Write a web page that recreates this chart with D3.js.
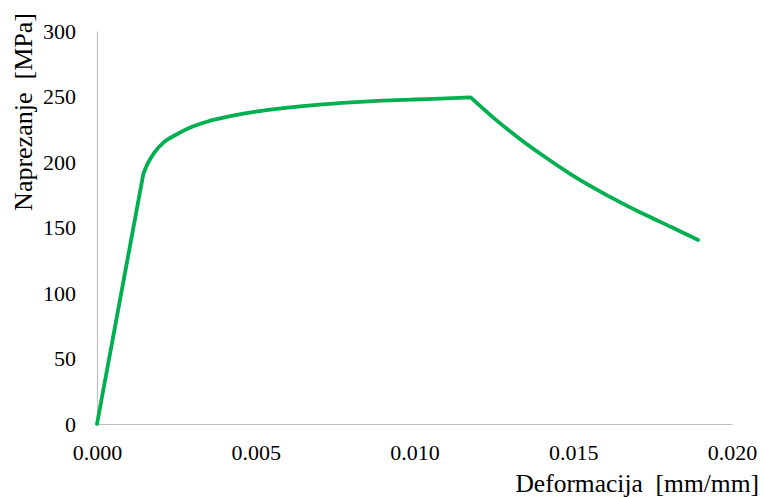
<!DOCTYPE html>
<html>
<head>
<meta charset="utf-8">
<script src="https://cdn.jsdelivr.net/npm/d3@7"></script>
<style>
  html, body { margin: 0; padding: 0; background: #fff; }
  svg { display: block; }
  text { font-family: "Liberation Serif", "Times New Roman", serif; fill: #000; white-space: pre; }
</style>
</head>
<body>
<svg id="chart" width="763" height="497"></svg>
<script>
const strain = [0, 0.00146, 0.0016, 0.0018, 0.0021, 0.0025, 0.0029, 0.0035, 0.0042, 0.005, 0.006, 0.007, 0.008, 0.009, 0.010, 0.011, 0.01177, 0.0125, 0.0133, 0.0141, 0.0149, 0.0157, 0.0165, 0.0173, 0.0181, 0.01893];
const stress = [0, 191, 199, 207, 215, 221, 226, 231, 235, 238.5, 241.5, 243.8, 245.5, 246.8, 247.7, 248.5, 249.3, 233.5, 218, 204, 191, 179.5, 169, 159.3, 150.2, 140.5];
const xTicks = [0, 0.005, 0.010, 0.015, 0.020];
const yTicks = [0, 50, 100, 150, 200, 250, 300];
const xTitle = "Deformacija  [mm/mm]";
const yTitle = "Naprezanje  [MPa]";

const svg = d3.select("#chart");
const x = d3.scaleLinear().domain([0, 0.020]).range([97, 732]);
const y = d3.scaleLinear().domain([0, 300]).range([424, 31]);

// axes
const xAxis = svg.append("g").attr("transform", "translate(0,424)")
  .call(d3.axisBottom(x).tickValues(xTicks).tickFormat(d3.format(".3f")).tickSize(0).tickPadding(20));
const yAxis = svg.append("g").attr("transform", "translate(97,0)")
  .call(d3.axisLeft(y).tickValues(yTicks).tickFormat(d3.format("d")).tickSize(0).tickPadding(21));
[xAxis, yAxis].forEach(g => {
  g.select(".domain").attr("stroke", "#bfbfbf").attr("stroke-width", 1.2);
  g.selectAll("text").attr("font-family", "Liberation Serif").attr("font-size", 22).attr("fill", "#000");
});
yAxis.selectAll("text").attr("dy", "0.34em");

// line: drawn in three pieces (elastic, hardening, softening) so the kinks stay sharp
const pts = strain.map((s, i) => [x(s), y(stress[i])]);
const iYield = 1, iPeak = strain.indexOf(0.01177);
const pieces = [pts.slice(0, iYield + 1), pts.slice(iYield, iPeak + 1), pts.slice(iPeak)];
const line = d3.line().curve(d3.curveMonotoneX);
svg.append("path")
  .attr("d", pieces.map(p => line(p)).join(""))
  .attr("fill", "none")
  .attr("stroke", "#00b050")
  .attr("stroke-width", 3.8)
  .attr("stroke-linejoin", "round")
  .attr("stroke-linecap", "round");

// titles
svg.append("text").attr("x", 759).attr("y", 492).attr("text-anchor", "end")
  .attr("font-size", 25.5).text(xTitle);
svg.append("text").attr("transform", "translate(32,112) rotate(-90)").attr("text-anchor", "middle")
  .attr("font-size", 26).text(yTitle);
</script>
</body>
</html>
